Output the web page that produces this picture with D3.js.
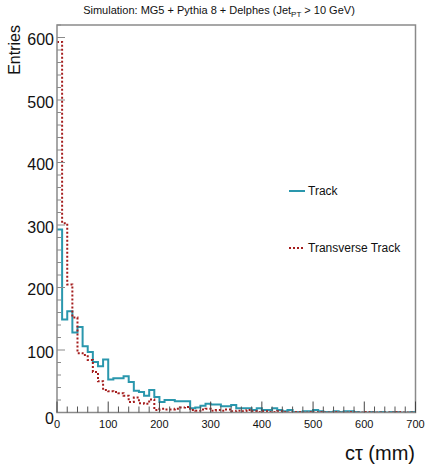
<!DOCTYPE html>
<html>
<head>
<meta charset="utf-8">
<script src="https://cdn.jsdelivr.net/npm/d3@7/dist/d3.min.js"></script>
<style>
  html, body { margin: 0; padding: 0; background: #fff; }
  svg { display: block; font-family: "Liberation Sans", Arial, Helvetica, sans-serif; }
</style>
</head>
<body>
<svg id="chart" width="427" height="469"></svg>
<script>
// Histogram binning: 70 bins of 10 mm from 0 to 700 mm
const binEdges = d3.range(0, 701, 10);

// Entries per bin, decay length of the track
const trackCounts = [
  293, 149, 162, 128, 137, 106, 97, 81, 74, 85,
  53, 55, 55, 58, 49, 35, 33, 27, 36, 25,
  17, 20, 20, 18, 18, 18, 7, 8, 11, 14,
  13, 13, 10, 10, 12, 7, 7, 7, 4, 7,
  4, 4, 7, 4, 2, 4, 1, 1, 2, 2,
  4, 2, 1, 1, 2, 1, 2, 2, 1, 0,
  0, 1, 0, 1, 0, 1, 1, 0, 0, 1
];

// Entries per bin, transverse decay length
const transverseCounts = [
  593, 303, 205, 152, 95, 92, 84, 65, 50, 36,
  34, 33, 31, 27, 17, 24, 15, 14, 21, 4,
  6, 5, 5, 6, 8, 9, 4, 3, 5, 6,
  3, 4, 3, 5, 2, 3, 2, 4, 2, 1,
  2, 1, 1, 2, 1, 0, 1, 1, 0, 1,
  0, 1, 0, 0, 1, 0, 0, 1, 0, 0,
  1, 0, 0, 0, 0, 0, 1, 0, 0, 0
];

const xTickValues = [0, 100, 200, 300, 400, 500, 600, 700];
const yTickValues = [0, 100, 200, 300, 400, 500, 600];

const titleText = "Simulation: MG5 + Pythia 8 + Delphes (Jet";
const seriesNames = ["Track", "Transverse Track"];

const svg = d3.select("#chart");
const frame = { left: 57, right: 415.5, top: 25, bottom: 412.5 };
const axisColor = "#8a8a8a";
const trackColor = "#2a97ad";
const transColor = "#a41c1c";

const x = d3.scaleLinear().domain([0, 700]).range([frame.left, frame.right]);
const y = d3.scaleLinear().domain([0, 620]).range([frame.bottom, frame.top]);

// Step outline for a histogram
function stepPoints(counts) {
  const pts = [];
  counts.forEach((c, i) => {
    pts.push([binEdges[i], c]);
    pts.push([binEdges[i + 1], c]);
  });
  return pts;
}
const line = d3.line().x(d => x(d[0])).y(d => y(d[1]));

svg.append("defs").append("clipPath").attr("id", "plotclip")
  .append("rect")
  .attr("x", frame.left).attr("y", frame.top)
  .attr("width", frame.right - frame.left).attr("height", frame.bottom - frame.top);

const plot = svg.append("g").attr("clip-path", "url(#plotclip)");

plot.append("path")
  .attr("d", line(stepPoints(trackCounts)))
  .attr("fill", "none")
  .attr("stroke", trackColor)
  .attr("stroke-width", 2);

plot.append("path")
  .attr("d", line(stepPoints(transverseCounts)))
  .attr("fill", "none")
  .attr("stroke", transColor)
  .attr("stroke-width", 2)
  .attr("stroke-dasharray", "2,2");

// Frame
svg.append("rect")
  .attr("x", frame.left).attr("y", frame.top)
  .attr("width", frame.right - frame.left).attr("height", frame.bottom - frame.top)
  .attr("fill", "none")
  .attr("stroke", axisColor)
  .attr("stroke-width", 1.5);

// Y axis ticks (inside) and labels
const yMinor = d3.range(0, 621, 20);
svg.append("g").selectAll("line").data(yMinor).join("line")
  .attr("x1", frame.left).attr("x2", d => frame.left + (d % 100 === 0 ? 8 : 4))
  .attr("y1", d => y(d)).attr("y2", d => y(d))
  .attr("stroke", axisColor).attr("stroke-width", 1);

svg.append("g").selectAll("text").data(yTickValues).join("text")
  .attr("x", frame.left - 3)
  .attr("y", d => y(d) + (d === 0 ? 6 : 2))
  .attr("text-anchor", "end")
  .attr("dominant-baseline", "central")
  .attr("font-size", 16)
  .attr("fill", "#111")
  .text(d => d);

// X axis ticks (inside) and labels
const xMinor = d3.range(0, 701, 20);
svg.append("g").selectAll("line").data(xMinor).join("line")
  .attr("x1", d => x(d)).attr("x2", d => x(d))
  .attr("y1", frame.bottom).attr("y2", d => frame.bottom - (d % 100 === 0 ? 11 : 6))
  .attr("stroke", d => d % 100 === 0 ? "#444" : "#555").attr("stroke-width", 1);

svg.append("g").selectAll("text").data(xTickValues).join("text")
  .attr("x", d => x(d))
  .attr("y", 428)
  .attr("text-anchor", "middle")
  .attr("font-size", 11)
  .attr("fill", "#111")
  .text(d => d);

// Title with subscript
const title = svg.append("text")
  .attr("x", 219).attr("y", 14)
  .attr("text-anchor", "middle")
  .attr("font-size", 11)
  .attr("fill", "#111");
title.append("tspan").text(titleText);
title.append("tspan").attr("font-size", 8).attr("dy", 3).text("PT");
title.append("tspan").attr("dy", -3).text(" > 10 GeV)");

// Axis titles
svg.append("text")
  .attr("transform", "translate(20,25) rotate(-90)")
  .attr("text-anchor", "end")
  .attr("font-size", 16)
  .attr("fill", "#111")
  .text("Entries");

svg.append("text")
  .attr("x", 415).attr("y", 460)
  .attr("text-anchor", "end")
  .attr("font-size", 20)
  .attr("fill", "#111")
  .text("cτ (mm)");

// Legend
const legend = svg.append("g");
const legendRows = [
  { name: seriesNames[0], color: trackColor, dash: null, yPos: 191 },
  { name: seriesNames[1], color: transColor, dash: "2,2", yPos: 248 }
];
legendRows.forEach(r => {
  legend.append("line")
    .attr("x1", 289).attr("x2", 305)
    .attr("y1", r.yPos).attr("y2", r.yPos)
    .attr("stroke", r.color).attr("stroke-width", 2)
    .attr("stroke-dasharray", r.dash);
  legend.append("text")
    .attr("x", 308).attr("y", r.yPos)
    .attr("dominant-baseline", "central")
    .attr("font-size", 12)
    .attr("fill", "#111")
    .text(r.name);
});
</script>
</body>
</html>
